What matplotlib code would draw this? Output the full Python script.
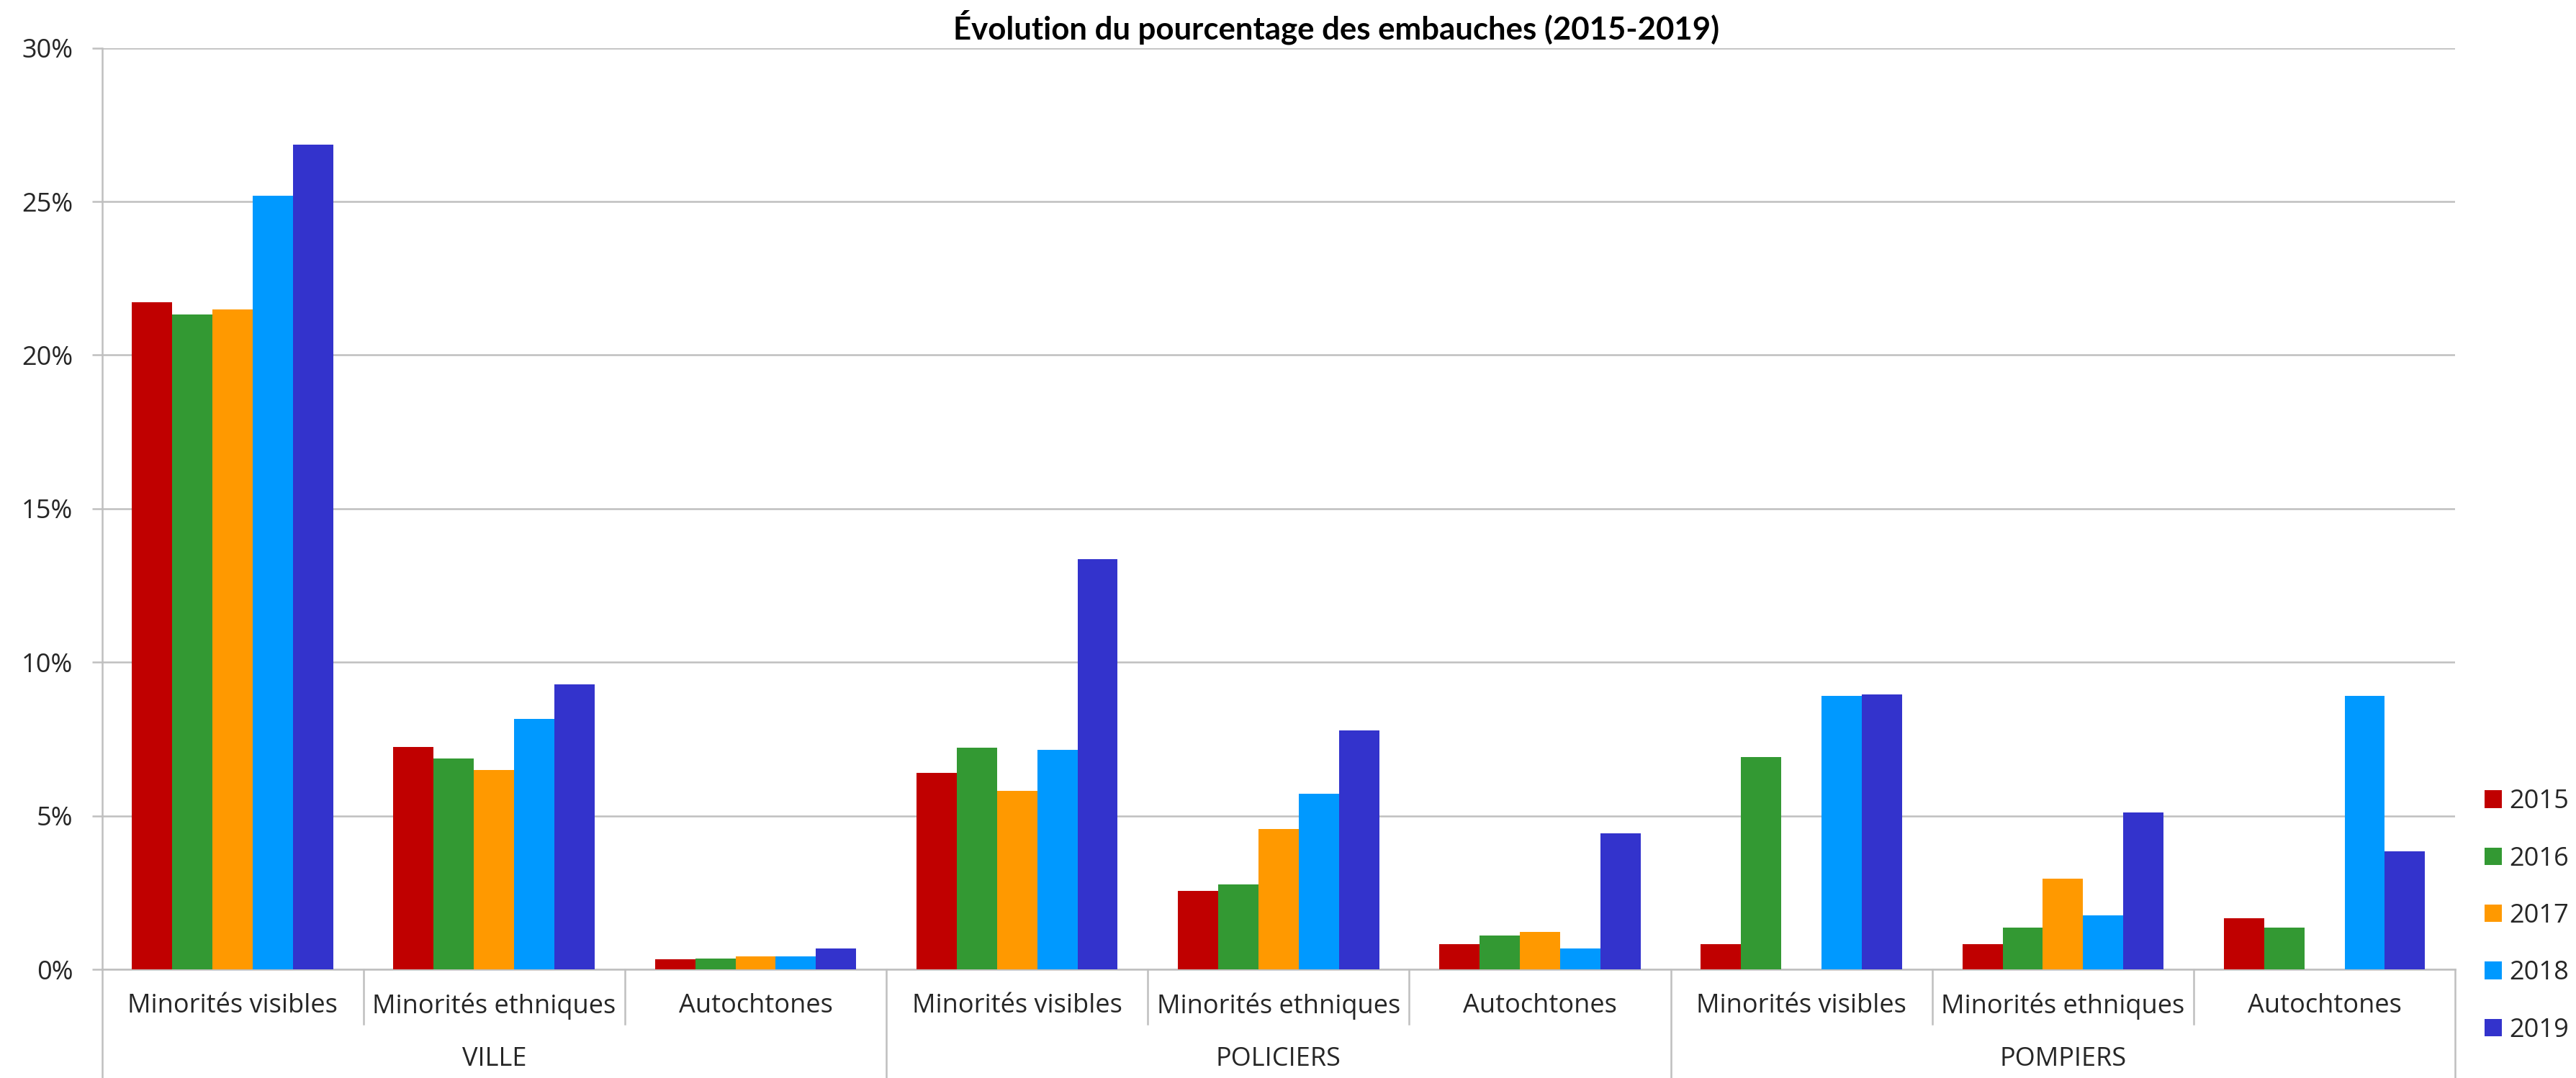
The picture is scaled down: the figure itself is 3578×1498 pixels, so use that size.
import numpy as np
import matplotlib.pyplot as plt
import matplotlib.transforms as mtransforms
from matplotlib.patches import Patch

# data (percentages)
groups = ['VILLE', 'POLICIERS', 'POMPIERS']
categories = ['Minorités visibles', 'Minorités ethniques', 'Autochtones']
years = ['2015', '2016', '2017', '2018', '2019']
colors = ['#C00000', '#339933', '#FF9900', '#0099FF', '#3333CC']

v2015 = [21.73, 7.25, 0.33, 6.40, 2.56, 0.84, 0.84, 0.84, 1.68]
v2016 = [21.32, 6.87, 0.36, 7.22, 2.77, 1.11, 6.93, 1.37, 1.38]
v2017 = [21.49, 6.50, 0.44, 5.81, 4.57, 1.23, np.nan, 2.97, np.nan]
v2018 = [25.19, 8.16, 0.44, 7.15, 5.73, 0.70, 8.90, 1.77, 8.90]
v2019 = [26.85, 9.28, 0.68, 13.35, 7.79, 4.44, 8.96, 5.11, 3.84]
series = [v2015, v2016, v2017, v2018, v2019]

grid_c = '#BFBFBF'
text_c = '#262626'
font = 'Open Sans'

fig = plt.figure(figsize=(35.78, 14.98), dpi=100)
ax = fig.add_axes([0.03955, 0.1005, 0.91355, 0.8551])

n = len(groups) * len(categories)
x = np.arange(n)
w = 0.154
for j, (vals, c, yr) in enumerate(zip(series, colors, years)):
    ax.bar(x + (j - 2) * w, vals, width=w, color=c, label=yr, zorder=3)

ax.set_xlim(-0.5, n - 0.5)
ax.set_ylim(0, 30)
ax.set_yticks(range(0, 31, 5))
ax.set_yticklabels([f'{t}%' for t in range(0, 31, 5)], fontfamily=font)
ax.yaxis.grid(True, color=grid_c, linewidth=1.8)
ax.set_axisbelow(True)
ax.set_xticks([])
for s in ['top', 'right']:
    ax.spines[s].set_visible(False)
for s in ['left', 'bottom']:
    ax.spines[s].set_color(grid_c)
    ax.spines[s].set_linewidth(1.8)
ax.tick_params(axis='y', length=10, width=1.8, color=grid_c, pad=19,
               labelsize=26, labelcolor=text_c)

# two-level category axis
trans = mtransforms.blended_transform_factory(ax.transData, ax.transAxes)
for i in range(n):
    ax.text(i, -0.0394, categories[i % 3], transform=trans, ha='center', va='center',
            fontsize=26, color=text_c, fontfamily=font)
for g, name in enumerate(groups):
    ax.text(g * 3 + 1, -0.097, name, transform=trans, ha='center', va='center',
            fontsize=26, color=text_c, fontfamily=font)
for k in range(n + 1):
    xb = k - 0.5
    bottom = -0.1175 if k % 3 == 0 else -0.0589
    ax.plot([xb, xb], [0, bottom], transform=trans, color=grid_c, lw=1.8, clip_on=False)

fig.text(1856 / 3578, 1 - 55 / 1498, 'Évolution du pourcentage des embauches (2015-2019)',
         ha='center', va='baseline', fontsize=31.5, fontweight='bold', fontfamily='Lato', color='black')

handles = [Patch(facecolor=c, label=yr) for c, yr in zip(colors, years)]
fig.legend(handles=handles, loc='center left', bbox_to_anchor=(3451 / 3578, 1 - 1273 / 1498),
           frameon=False, borderpad=0, borderaxespad=0, handlelength=0.66, handleheight=0.66,
           handletextpad=0.3, labelspacing=1.2, prop={'family': font, 'size': 26},
           labelcolor=text_c)

fig.savefig('out.png', dpi=100)
